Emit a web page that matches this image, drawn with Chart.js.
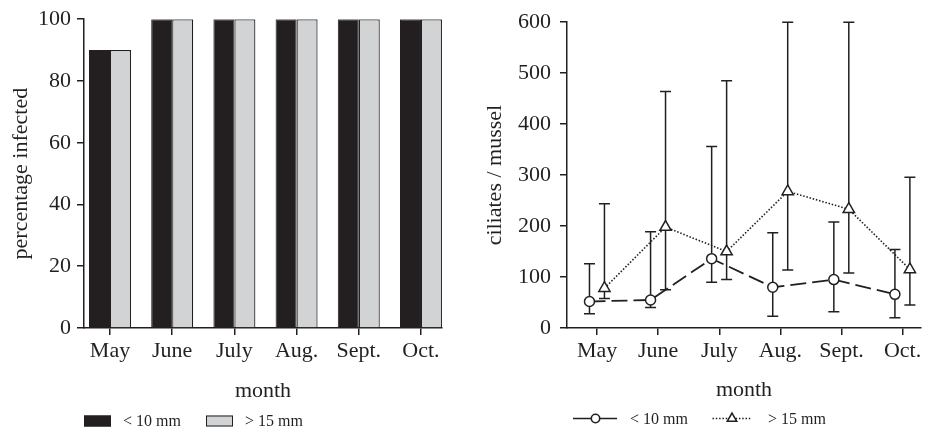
<!DOCTYPE html>
<html>
<head>
<meta charset="utf-8">
<script src="https://cdn.jsdelivr.net/npm/chart.js@4.4.1/dist/chart.umd.min.js"></script>
<style>
  html, body { margin: 0; padding: 0; background: #ffffff; }
  #wrap { position: relative; width: 929px; height: 431px; overflow: hidden; }
  #cL { position: absolute; left: 0; top: 0; }
  #cR { position: absolute; left: 460px; top: 0; }
</style>
</head>
<body>
<div id="wrap">
  <canvas id="cL" width="460" height="431"></canvas>
  <canvas id="cR" width="469" height="431"></canvas>
</div>
<script>
// ---------------- data ----------------
const months = ['May', 'June', 'July', 'Aug.', 'Sept.', 'Oct.'];
const seriesLabels = ['< 10 mm', '> 15 mm'];

// percentage infected (left panel)
const pctSmall = [90, 100, 100, 100, 100, 100];
const pctLarge = [90, 100, 100, 100, 100, 100];

// ciliates / mussel (right panel)
const ciliatesSmall = [52, 55, 136, 80, 95, 66];
const smallLow      = [28, 40, 90, 23, 32, 20];
const smallHigh     = [126, 189, 356, 187, 208, 154];

const ciliatesLarge = [78, 198, 150, 268, 233, 115];
const largeLow      = [58, 75, 95, 114, 108, 45];
const largeHigh     = [244, 464, 485, 600, 600, 296];

const pctTicks = [0, 20, 40, 60, 80, 100];
const ciliateTicks = [0, 100, 200, 300, 400, 500, 600];

// ---------------- style ----------------
const INK = '#231f20';
const GREY = '#d1d3d4';
const FONT = '"Liberation Serif", "Times New Roman", Times, serif';
Chart.defaults.font.family = FONT;
Chart.defaults.color = INK;

const SHIFT_SMALL = -0.125;
const SHIFT_LARGE = 0.12;

function monthTicks(scale) {
  scale.ticks = months.map((m, i) => ({ value: i }));
}

// legend plugins (drawn below the axis title)
const barLegend = {
  id: 'barLegend',
  afterDraw(chart) {
    const ctx = chart.ctx;
    const y = chart.chartArea.bottom + 93;
    ctx.save();
    ctx.font = '16px ' + FONT;
    ctx.textBaseline = 'middle';
    ctx.textAlign = 'left';
    const items = [
      { x: 84, fill: INK, text: seriesLabels[0] },
      { x: 206, fill: GREY, text: seriesLabels[1] }
    ];
    items.forEach(it => {
      ctx.fillStyle = it.fill;
      ctx.fillRect(it.x, y - 5.5, 27, 11);
      ctx.strokeStyle = INK;
      ctx.lineWidth = 1;
      ctx.strokeRect(it.x + 0.5, y - 5, 26, 10);
      ctx.fillStyle = INK;
      ctx.fillText(it.text, it.x + 39, y + 1);
    });
    ctx.restore();
  }
};

const lineLegend = {
  id: 'lineLegend',
  afterDraw(chart) {
    const ctx = chart.ctx;
    const y = chart.chartArea.bottom + 90.5;
    ctx.save();
    ctx.strokeStyle = INK;
    ctx.fillStyle = INK;
    // < 10 mm : solid line with circle
    ctx.lineWidth = 1.6;
    ctx.setLineDash([]);
    ctx.beginPath(); ctx.moveTo(113, y); ctx.lineTo(157, y); ctx.stroke();
    ctx.beginPath(); ctx.arc(135.5, y, 4.2, 0, Math.PI * 2);
    ctx.fillStyle = '#fff'; ctx.fill(); ctx.stroke();
    // > 15 mm : dotted line with triangle
    ctx.setLineDash([1.5, 1.8]);
    ctx.lineWidth = 1.5;
    ctx.beginPath(); ctx.moveTo(252.5, y); ctx.lineTo(291, y); ctx.stroke();
    ctx.setLineDash([]);
    const tx = 272, r = 5.5;
    ctx.beginPath();
    ctx.moveTo(tx, y - r);
    ctx.lineTo(tx + r * 0.866, y + r * 0.5);
    ctx.lineTo(tx - r * 0.866, y + r * 0.5);
    ctx.closePath();
    ctx.fillStyle = '#fff'; ctx.fill(); ctx.lineWidth = 1.5; ctx.stroke();
    ctx.fillStyle = INK;
    ctx.font = '16px ' + FONT;
    ctx.textBaseline = 'middle';
    ctx.textAlign = 'left';
    ctx.fillText(seriesLabels[0], 170, y + 1.5);
    ctx.fillText(seriesLabels[1], 308, y + 1.5);
    ctx.restore();
  }
};

// error bars, drawn from the scales before the series so markers cover them
const errorBars = {
  id: 'errorBars',
  beforeDatasetsDraw(chart) {
    const ctx = chart.ctx;
    const xs = chart.scales.x, ys = chart.scales.y;
    ctx.save();
    ctx.strokeStyle = INK;
    ctx.lineWidth = 1.5;
    ctx.setLineDash([]);
    chart.data.datasets.forEach(ds => {
      if (!ds.errLow) return;
      ds.data.forEach((p, i) => {
        const px = xs.getPixelForValue(p.x);
        const lo = ys.getPixelForValue(ds.errLow[i]);
        const hi = ys.getPixelForValue(ds.errHigh[i]);
        ctx.beginPath();
        ctx.moveTo(px, lo); ctx.lineTo(px, hi);
        ctx.moveTo(px - 5.5, lo); ctx.lineTo(px + 5.5, lo);
        ctx.moveTo(px - 5.5, hi); ctx.lineTo(px + 5.5, hi);
        ctx.stroke();
      });
    });
    ctx.restore();
  }
};

const axisCommon = (tickPad) => ({
  grid: { display: true, drawOnChartArea: false, drawTicks: true, tickLength: 7, color: INK, lineWidth: 1.5, offset: false },
  border: { display: true, color: INK, width: 1.5 },
  ticks: { color: INK, font: { size: 22, family: FONT }, padding: tickPad }
});

// ---------------- left: bar chart ----------------
new Chart(document.getElementById('cL'), {
  type: 'bar',
  data: {
    datasets: [
      { label: seriesLabels[0], data: pctSmall.map((v, i) => ({ x: i, y: v })),
        backgroundColor: INK, borderColor: INK, borderWidth: 1 },
      { label: seriesLabels[1], data: pctLarge.map((v, i) => ({ x: i, y: v })),
        backgroundColor: GREY, borderColor: INK, borderWidth: 1.2 }
    ]
  },
  options: {
    responsive: false, animation: false,
    categoryPercentage: 0.675, barPercentage: 1,
    layout: { padding: { top: 19, right: 18, bottom: 20, left: 0 } },
    plugins: { legend: { display: false }, tooltip: { enabled: false } },
    scales: {
      x: Object.assign(axisCommon(3), {
        type: 'linear', min: -0.418, max: 5.338, offset: false,
        afterBuildTicks: monthTicks,
        ticks: { color: INK, font: { size: 22, family: FONT }, padding: 3, autoSkip: false, maxRotation: 0,
                 callback: (v) => months[v] },
        title: { display: true, text: 'month', color: INK, font: { size: 22, family: FONT }, padding: { top: 0, bottom: 7 } },
        afterFit: (s) => { s.height = 83; }
      }),
      y: Object.assign(axisCommon(6), {
        min: 0, max: 100,
        afterBuildTicks: (s) => { s.ticks = pctTicks.map(v => ({ value: v })); },
        title: { display: true, text: 'percentage infected', color: INK, font: { size: 22, family: FONT }, padding: { top: 8, bottom: 0 } },
        afterFit: (s) => { s.width = 84; }
      })
    }
  },
  plugins: [barLegend]
});

// ---------------- right: line chart with error bars ----------------
new Chart(document.getElementById('cR'), {
  type: 'line',
  data: {
    datasets: [
      { label: seriesLabels[0],
        data: ciliatesSmall.map((v, i) => ({ x: i + SHIFT_SMALL, y: v })),
        errLow: smallLow, errHigh: smallHigh,
        borderColor: INK, borderWidth: 1.8, borderDash: [16, 6], fill: false, tension: 0,
        pointStyle: 'circle', pointRadius: 5, pointBackgroundColor: '#fff',
        pointBorderColor: INK, pointBorderWidth: 1.5 },
      { label: seriesLabels[1],
        data: ciliatesLarge.map((v, i) => ({ x: i + SHIFT_LARGE, y: v })),
        errLow: largeLow, errHigh: largeHigh,
        borderColor: INK, borderWidth: 1.6, borderDash: [1.5, 1.8], fill: false, tension: 0,
        pointStyle: 'triangle', pointRadius: 6.5, pointBackgroundColor: '#fff',
        pointBorderColor: INK, pointBorderWidth: 1.5 }
    ]
  },
  options: {
    responsive: false, animation: false,
    layout: { padding: { top: 19, right: 1, bottom: 20, left: 0 } },
    plugins: { legend: { display: false }, tooltip: { enabled: false } },
    scales: {
      x: Object.assign(axisCommon(3), {
        type: 'linear', min: -0.493, max: 5.302, offset: false,
        afterBuildTicks: monthTicks,
        ticks: { color: INK, font: { size: 22, family: FONT }, padding: 3, autoSkip: false, maxRotation: 0,
                 callback: (v) => months[v] },
        title: { display: true, text: 'month', color: INK, font: { size: 22, family: FONT }, padding: { top: 0, bottom: 8 } },
        afterFit: (s) => { s.height = 83; }
      }),
      y: Object.assign(axisCommon(9), {
        min: 0, max: 600,
        afterBuildTicks: (s) => { s.ticks = ciliateTicks.map(v => ({ value: v })); },
        title: { display: true, text: 'ciliates / mussel', color: INK, font: { size: 22, family: FONT }, padding: { top: 22, bottom: 0 } },
        afterFit: (s) => { s.width = 107; }
      })
    }
  },
  plugins: [errorBars, lineLegend]
});
</script>
</body>
</html>
